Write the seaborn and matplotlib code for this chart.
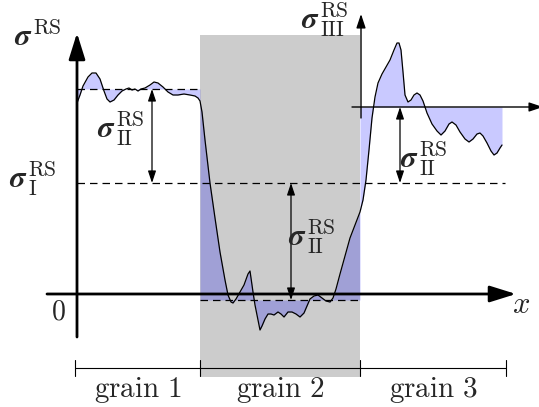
import numpy as np
import pandas as pd
import seaborn as sns
import matplotlib
matplotlib.use("Agg")
import matplotlib.pyplot as plt

sns.set_theme(style="white")
plt.rcParams["mathtext.fontset"] = "cm"

# residual-stress profile along x, one segment per grain
g1_x = [0, 3, 6, 11, 15, 19, 23, 27, 30, 33, 37, 41, 45, 49, 52, 55, 58, 61, 64, 68,
        73, 77, 81, 86, 91, 96, 101, 107, 113, 118, 121, 123]
g1_y = [191, 199, 208, 217, 221, 221, 215, 203, 195, 192, 194, 199, 203, 205, 206, 204, 205, 203, 205, 206,
        209, 212, 211, 207, 202, 199, 199, 200, 199, 198, 196, 193]
g2_x = [123, 125, 128, 133, 138, 143, 148, 151, 154, 156, 159, 163, 167, 171, 173, 174, 176, 178, 181, 183,
        185, 188, 191, 194, 197, 201, 204, 207, 211, 215, 219, 223, 227, 230, 233, 237, 241, 245, 249, 253,
        256, 259, 263, 268, 273, 278, 283]
g2_y = [193, 182, 154, 111, 76, 42, 14, -1, -8, -9, -5, 2, 9, 20, 23, 16, 2, -11, -26, -36,
        -32, -25, -20, -20, -21, -18, -20, -23, -18, -18, -20, -23, -19, -12, -5, -2, -1, -4, -7, -8,
        -4, 5, 20, 38, 56, 69, 82]
g3_x = [283, 286, 289, 292, 295, 298, 301, 305, 309, 313, 317, 320, 322, 324, 326, 328, 331, 334, 337, 340,
        343, 346, 350, 355, 360, 364, 368, 372, 375, 379, 383, 388, 392, 396, 400, 403, 406, 410, 414, 417,
        420, 423, 425]
g3_y = [82, 94, 114, 144, 176, 197, 211, 220, 227, 234, 244, 251, 251, 244, 222, 199, 192, 194, 199, 201,
        199, 193, 181, 170, 163, 159, 163, 170, 172, 169, 162, 155, 152, 155, 160, 161, 158, 151, 143, 139,
        141, 146, 149]

# grain boundaries and stress levels
grain_edges = [-2, 123, 283, 429]
grain_names = ["grain 1", "grain 2", "grain 3"]
sigma_I = 111
grain1_level = 205
grain2_level = -6
grain3_level = 187

fig = plt.figure(figsize=(5.39, 4.07), dpi=100)
ax = fig.add_axes([0, 0, 1, 1])
ax.set_xlim(-77, 462)
ax.set_ylim(-113, 294)
ax.axis("off")

fill_c = (0.0, 0.0, 1.0, 0.21)

# grain 2 background
ax.fill_between([grain_edges[1], grain_edges[2]], -83, 259, color="#cccccc", lw=0, zorder=0)

# deviation from the grain mean
ax.fill_between(g1_x, g1_y, grain1_level, color=fill_c, lw=0, zorder=1)
ax.fill_between(g2_x, g2_y, grain2_level, color=fill_c, lw=0, zorder=1)
ax.fill_between(g3_x, g3_y, grain3_level, color=fill_c, lw=0, zorder=1)

profile = pd.DataFrame({"x": g1_x + g2_x[1:] + g3_x[1:],
                        "s": g1_y + g2_y[1:] + g3_y[1:]})
sns.lineplot(data=profile, x="x", y="s", sort=False, estimator=None,
             color="black", lw=0.9, ax=ax, zorder=4)

dash = dict(color="black", lw=0.9, ls=(0, (6, 4)), zorder=3)
ax.plot([0, 121], [grain1_level, grain1_level], **dash)
ax.plot([0, 428], [sigma_I, sigma_I], **dash)
ax.plot([grain_edges[1], grain_edges[2]], [grain2_level, grain2_level], **dash)

# main axes
big = dict(arrowstyle="-|>,head_length=0.8,head_width=0.25", color="black", lw=2.0,
           shrinkA=0, shrinkB=0, mutation_scale=20)
ax.annotate("", xy=(0, 261), xytext=(0, -43), arrowprops=big, zorder=5, annotation_clip=False)
ax.annotate("", xy=(439, 0), xytext=(-30, 0), arrowprops=big, zorder=5, annotation_clip=False)

# local axes of grain 3
small = dict(arrowstyle="-|>,head_length=0.6,head_width=0.2", color="black", lw=1.0,
             shrinkA=0, shrinkB=0, mutation_scale=14)
ax.annotate("", xy=(284, 280), xytext=(284, 176), arrowprops=small, zorder=5, annotation_clip=False)
ax.annotate("", xy=(466, grain3_level), xytext=(275, grain3_level), arrowprops=small, zorder=5,
            annotation_clip=False)

# sigma_II distances
dbl = dict(arrowstyle="<|-|>,head_length=0.6,head_width=0.2", color="black", lw=0.9,
           shrinkA=0, shrinkB=0, mutation_scale=12)
ax.annotate("", xy=(75, grain1_level), xytext=(75, sigma_I), arrowprops=dbl, zorder=5)
ax.annotate("", xy=(214, sigma_I), xytext=(214, grain2_level), arrowprops=dbl, zorder=5)
ax.annotate("", xy=(323, grain3_level), xytext=(323, sigma_I), arrowprops=dbl, zorder=5)

# grain extents
ybar = -74
ax.plot([grain_edges[0], grain_edges[-1]], [ybar, ybar], color="black", lw=0.8, zorder=5)
for e in grain_edges:
    ax.plot([e, e], [ybar - 8, ybar + 8], color="black", lw=0.8, zorder=5)
for a, b, name in zip(grain_edges[:-1], grain_edges[1:], grain_names):
    ax.text((a + b) / 2, ybar - 29, r"$\mathrm{" + name.replace(" ", r"\ ") + "}$",
            ha="center", va="baseline", fontsize=21, zorder=6)


def stress_label(x, y, sup, sub=None):
    """Bold sigma whose right edge and baseline sit at (x, y), with stacked scripts."""
    ax.text(x, y, r"$\boldsymbol{\sigma}$", ha="right", va="baseline", fontsize=22, zorder=6)
    ax.annotate(r"$\mathrm{" + sup + "}$", xy=(x, y), xytext=(0.4, 7.6), textcoords="offset points",
                ha="left", va="baseline", fontsize=15.5, zorder=6, annotation_clip=False)
    if sub:
        ax.annotate(r"$\mathrm{" + sub + "}$", xy=(x, y), xytext=(1.0, -6.0), textcoords="offset points",
                    ha="left", va="baseline", fontsize=15.5, zorder=6, annotation_clip=False)


stress_label(-45, 249, "RS")
stress_label(-50, 107, "RS", "I")
stress_label(38, 157, "RS", "II")
stress_label(229, 49, "RS", "II")
stress_label(341, 127, "RS", "II")
stress_label(242, 266, "RS", "III")

ax.text(-19, -26, r"$0$", ha="center", va="baseline", fontsize=20)
ax.text(444, -19, r"$x$", ha="center", va="baseline", fontsize=22)

fig.savefig("out.png", dpi=100)
